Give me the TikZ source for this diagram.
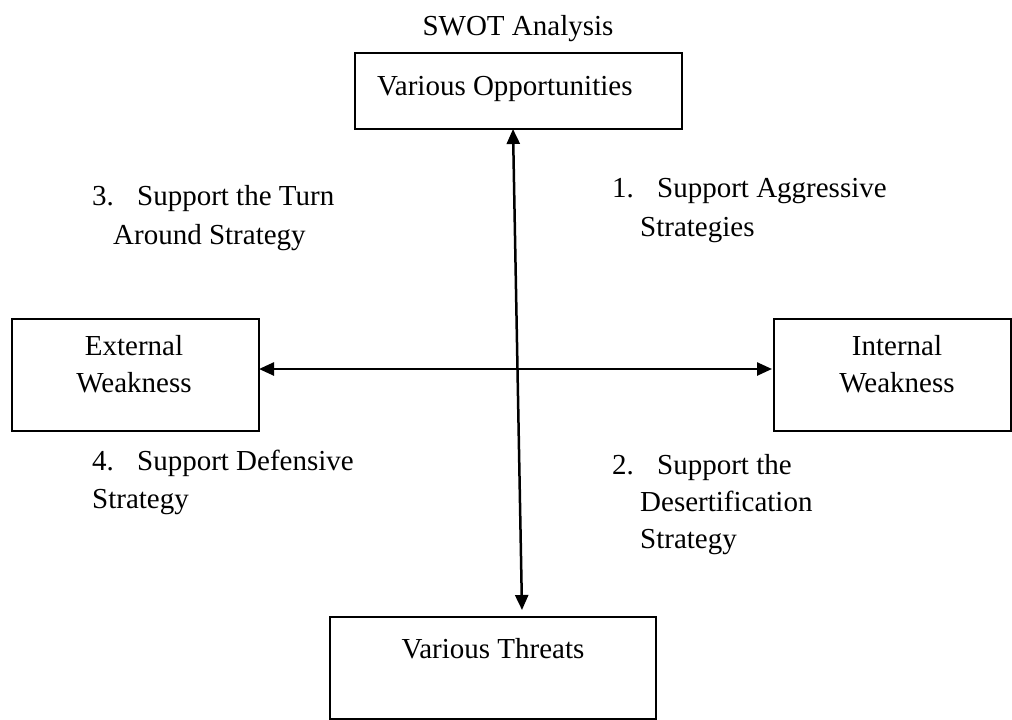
\documentclass[tikz,border=0pt]{standalone}
\usepackage{fontspec}
\setmainfont{Liberation Serif}
\usetikzlibrary{arrows.meta}
\begin{document}
\begin{tikzpicture}[x=1pt,y=-1pt,
  box/.style={draw=black, line width=2pt, anchor=north west, inner sep=0pt},
  txt/.style={anchor=base west, inner sep=0pt, font=\fontsize{29}{37}\selectfont},
  ctxt/.style={anchor=base, inner sep=0pt, font=\fontsize{29}{37}\selectfont},
  arr/.style={line width=2.5pt, {Triangle[length=15pt,width=13pt]}-{Triangle[length=15pt,width=13pt]}}]
\useasboundingbox (0,0) rectangle (1012,720);
% title
\node[ctxt] (title) at (518,35) {SWOT Analysis};
% boxes
\node[box, minimum width=327pt, minimum height=76pt] (opp) at (354,52) {};
\node[box, minimum width=247pt, minimum height=112pt] (ext) at (11,318) {};
\node[box, minimum width=237pt, minimum height=112pt] (int) at (773,318) {};
\node[box, minimum width=326pt, minimum height=102pt] (thr) at (329,616) {};
% box texts
\node[txt] (opptext) at (377,95) {Various Opportunities};
\node[ctxt] (ext1) at (134,355) {External};
\node[ctxt] (ext2) at (134,392) {Weakness};
\node[ctxt] (int1) at (897,355) {Internal};
\node[ctxt] (int2) at (897,392) {Weakness};
\node[ctxt] (thrtext) at (493,658) {Various Threats};
% arrows
\coordinate (vt) at (513,129);
\coordinate (vb) at (522,610);
\coordinate (hl) at (259,369);
\coordinate (hr) at (772,369);
\draw[arr] (vt) -- (vb);
\draw[arr] (hl) -- (hr);
% labels
\node[txt] (l3a) at (92,205) {3.\hspace{0.8em}Support the Turn};
\node[txt] (l3b) at (113,244) {Around Strategy};
\node[txt] (l1a) at (612,197) {1.\hspace{0.8em}Support Aggressive};
\node[txt] (l1b) at (640,236) {Strategies};
\node[txt] (l4a) at (92,470) {4.\hspace{0.8em}Support Defensive};
\node[txt] (l4b) at (92,508) {Strategy};
\node[txt] (l2a) at (612,474) {2.\hspace{0.8em}Support the};
\node[txt] (l2b) at (640,511) {Desertification};
\node[txt] (l2c) at (640,548) {Strategy};
\end{tikzpicture}
\end{document}
